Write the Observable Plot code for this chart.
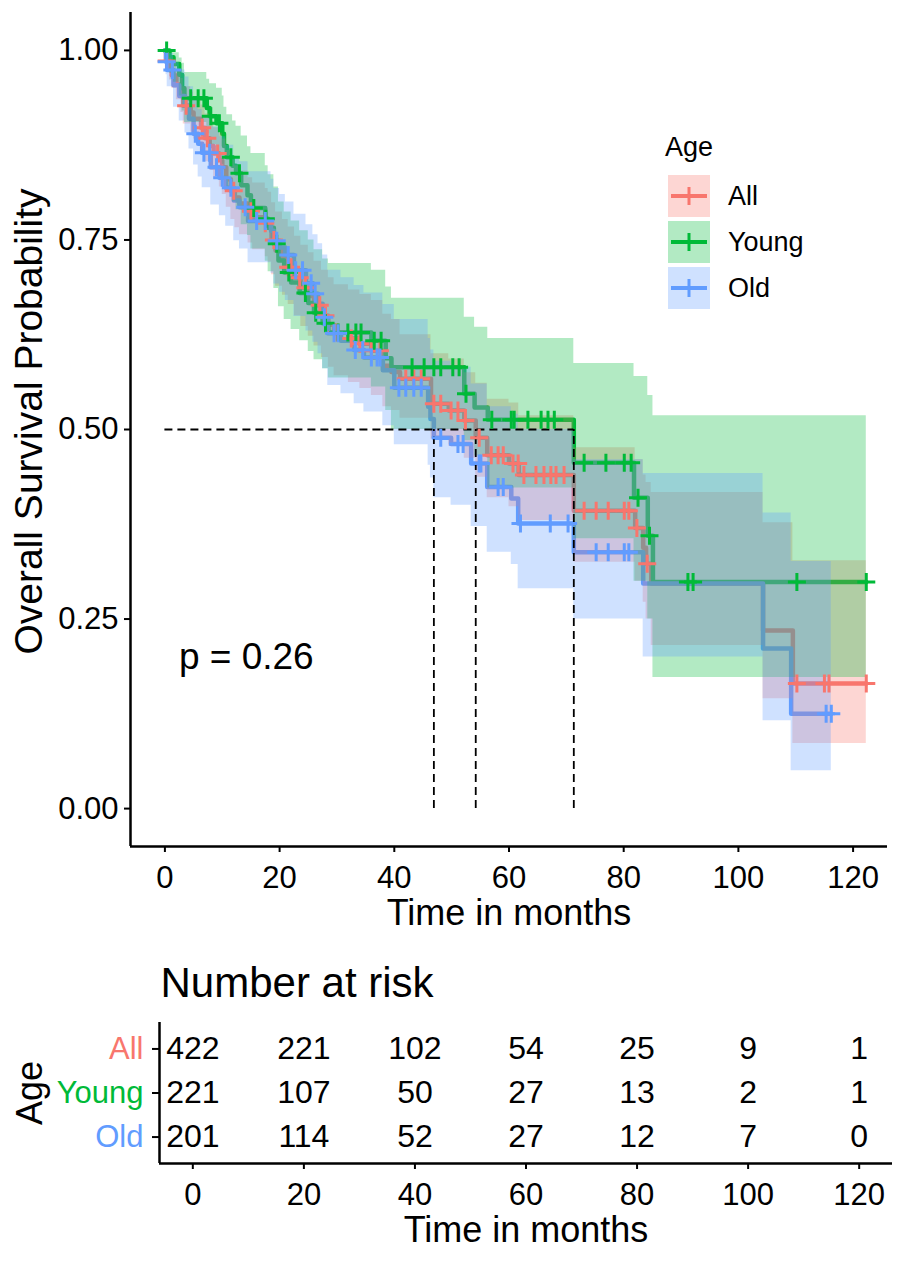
<!DOCTYPE html>
<html><head><meta charset="utf-8">
<script src="https://cdn.jsdelivr.net/npm/d3@7"></script>
<script src="https://cdn.jsdelivr.net/npm/@observablehq/plot@0.6"></script>
<style>
body{margin:0;background:#fff;font-family:"Liberation Sans",Arial,sans-serif;}
#wrap{position:relative;width:900px;}
#wrap svg{display:block;}
</style></head><body><div id="wrap"></div>
<script>
// ---------- data ----------
const groups = ["All", "Young", "Old"];
const colors = ["#F8766D", "#00BA38", "#619CFF"];
const legendTitle = "Age";
const xLabel = "Time in months";
const yLabel = "Overall Survival Probability";
const pText = "p = 0.26";
const xTicks = [0, 20, 40, 60, 80, 100, 120];
const yTicks = [0, 0.25, 0.5, 0.75, 1];
const xDomain = [-6, 126];
const yDomain = [-0.05, 1.05];

// All
const allTime  = [0,0.2,0.8,1.2,2,2.8,3.2,4.5,5,6.3, 7,7.8,8.5,9.5,10,10.7,11.5,12.2,13,14.5, 15.3,17.5,18,18.6,19.3,20.5,21.5,22.6,23.7,25, 26,27.3,28.5,29.5,32,34,36,38,39.5,41, 46.4,49.5,52.2,54.2,56.2,60,61.7,71.3,82.0,83.4, 83.9,84.8,104.3,109.5];
const allSurv  = [1,.986,.976,.967,.955,.94,.927,.918,.91,.898, .884,.874,.864,.855,.846,.83,.815,.806,.798,.788, .78,.772,.766,.75,.736,.725,.714,.70,.687,.676, .664,.65,.638,.628,.62,.613,.604,.584,.576,.567, .534,.525,.512,.489,.466,.455,.44,.393,.37,.344, .323,.297,.235,.165];
const allLower = [1,.975,.961,.95,.935,.918,.903,.892,.883,.869, .853,.842,.83,.82,.81,.793,.777,.766,.757,.746, .737,.728,.721,.704,.689,.677,.665,.65,.636,.623, .61,.595,.582,.571,.562,.554,.545,.53,.525,.515, .487,.478,.462,.437,.41,.398,.38,.325,.30,.272, .25,.215,.145,.086];
const allUpper = [1,.997,.99,.985,.975,.963,.952,.945,.938,.928, .916,.907,.898,.891,.883,.868,.855,.848,.841,.832, .825,.818,.813,.799,.787,.777,.767,.755,.743,.733, .722,.71,.70,.691,.684,.678,.67,.652,.645,.625, .60,.593,.575,.561,.54,.535,.518,.476,.46,.44, .43,.417,.377,.327];
const allCensor = [0.3,3.7,6.5,7.4,9.2,12,15,17.5,19,21.5,22,23.5,24.5,27,28,30,32.5,34,36,37.5,42,43.4,44.7,46.9,48.1,49.9,51.1,52.4,54.8,56.9,58.1,59,60.7,61.6,62.6,64.7,66.1,67.3,68.2,69.6,73.1,75.2,77.3,80.1,80.9,82.3,84.1,110.2,115,115.8,122.3];
const allEnd = 122.3;

// Young
const youngTime  = [0,0.8,1.5,2.5,3.0,3.4,7.3,7.8,9.0,10.0, 10.3,10.8,11.8,12.4,13.3,14.4,15.0,17.5,18.0,19.0, 19.8,20.8,22.0,23.5,25.0,26.0,27.5,28.5,36.0,38.5, 39.5,52.2,54.0,56.3,71.3,81.8,84.2,85.1];
const youngSurv  = [1,.991,.982,.968,.95,.937,.924,.913,.904,.89, .874,.859,.848,.838,.822,.809,.792,.778,.766,.745, .723,.707,.694,.68,.667,.654,.64,.628,.617,.594, .582,.547,.529,.513,.456,.41,.36,.299];
const youngLower = [1,.97,.958,.94,.92,.905,.89,.876,.865,.85, .83,.815,.80,.79,.77,.756,.738,.722,.708,.686, .662,.645,.632,.617,.603,.592,.58,.568,.556,.525, .50,.485,.465,.423,.356,.30,.25,.173];
const youngUpper = [1,1,.997,.99,.983,.971,.962,.956,.95,.94, .925,.915,.907,.90,.887,.873,.864,.848,.836,.82, .80,.787,.775,.762,.75,.737,.725,.719,.71,.688, .673,.648,.635,.62,.587,.57,.545,.518];
const youngCensor = [0.3,4.5,5.8,6.8,8.0,9.5,11.5,13.0,15.5,17.6,19.5,21.6,24.5,26.3,28.0,30.2,31.9,33.3,34.2,36.5,37.7,43.1,45.2,46.9,48.1,50.2,51.3,52.5,57.0,60.4,60.9,63.3,65.6,66.8,67.9,73.1,76.9,80.1,81.3,82.5,84.5,91.2,92.1,110.2,122.3];
const youngEnd = 122.3;

// Old
const oldTime  = [0,0.2,0.4,1.5,2.5,3.5,4.2,5,5.8,6.5, 8,9.5,10.6,12,13,14.5,18.5,19,20,21, 22.5,24.6,25.8,26.7,27.5,28.4,30.7,33,34.7,38, 40,45.9,46.3,46.9,49.9,53.4,56.2,60.4,61.6,71.3, 83.4,104.3,109.2];
const oldSurv  = [1,.985,.974,.954,.94,.927,.91,.89,.877,.865, .846,.832,.819,.802,.793,.775,.762,.749,.74,.73, .71,.693,.679,.666,.648,.627,.617,.605,.595,.578, .555,.53,.514,.489,.481,.455,.424,.409,.376,.338, .297,.211,.125];
const oldLower = [1,.968,.952,.925,.907,.891,.87,.849,.833,.819, .796,.782,.768,.749,.738,.72,.706,.692,.681,.67, .649,.63,.615,.60,.58,.558,.547,.534,.523,.505, .48,.453,.436,.41,.40,.372,.338,.322,.29,.25, .20,.116,.05];
const oldUpper = [1,1,.996,.984,.974,.965,.952,.934,.922,.914, .899,.886,.875,.86,.853,.84,.83,.818,.81,.80, .784,.77,.757,.745,.73,.71,.70,.69,.68,.665, .645,.62,.605,.59,.582,.56,.53,.52,.50,.46, .442,.39,.326];
const oldCensor = [0.3,1.3,5.3,6.8,7.8,9.0,10.0,11.5,14.0,16.0,17.5,19.5,21.5,22.8,24.0,25.5,26.2,27.8,29.5,30.2,33.2,34.5,36.0,37.0,37.5,40.8,42.0,43.4,44.7,48.1,51.1,52.0,54.8,55.1,58.1,59.0,62.0,67.2,70.3,75.2,77.3,80.1,80.9,115.3,116.2];
const oldEnd = 116.2;

// Number at risk
const riskTitle = "Number at risk";
const riskTimes = [0, 20, 40, 60, 80, 100, 120];
const riskAll   = [422, 221, 102, 54, 25, 9, 1];
const riskYoung = [221, 107, 50, 27, 13, 2, 1];
const riskOld   = [201, 114, 52, 27, 12, 7, 0];

// ---------- build tables ----------
const series = [
  {g: "All", time: allTime, surv: allSurv, lo: allLower, hi: allUpper, cens: allCensor, end: allEnd},
  {g: "Young", time: youngTime, surv: youngSurv, lo: youngLower, hi: youngUpper, cens: youngCensor, end: youngEnd},
  {g: "Old", time: oldTime, surv: oldSurv, lo: oldLower, hi: oldUpper, cens: oldCensor, end: oldEnd}
];
function survAt(s, t) { let v = s.surv[0]; for (let i = 0; i < s.time.length; i++) if (s.time[i] <= t) v = s.surv[i]; return v; }

const curveRows = [], bandRows = [], censRows = [], medians = [];
for (const s of series) {
  const n = s.time.length;
  const cr = s.time.map((t, i) => ({g: s.g, t, s: s.surv[i]}));
  cr.push({g: s.g, t: s.end, s: s.surv[n - 1]});
  const br = s.time.map((t, i) => ({g: s.g, t, lo: s.lo[i], hi: s.hi[i]}));
  br.push({g: s.g, t: s.end, lo: s.lo[n - 1], hi: s.hi[n - 1]});
  curveRows.push(cr); bandRows.push(br);
  for (const t of s.cens) censRows.push({g: s.g, t, s: survAt(s, t)});
  const mi = s.surv.findIndex(v => v <= 0.5);
  if (mi >= 0) medians.push(s.time[mi]);
}
const maxMedian = d3.max(medians);
const maxTime = d3.max(series, s => s.end);

const plusSymbol = {
  draw(ctx, size) {
    const r = Math.sqrt(size / Math.PI);
    ctx.moveTo(-r, 0); ctx.lineTo(r, 0);
    ctx.moveTo(0, -r); ctx.lineTo(0, r);
  }
};

const font = "Liberation Sans, Arial, sans-serif";
const wrap = document.getElementById("wrap");

// ---------- main plot ----------
const marks = [];
marks.push(Plot.ruleX([xDomain[0]], {stroke: "black", strokeWidth: 2.5}));
marks.push(Plot.ruleY([yDomain[0]], {stroke: "black", strokeWidth: 2.5}));
curveRows.forEach((rows, i) => marks.push(Plot.line(rows, {x: "t", y: "s", curve: "step-after", stroke: colors[i], strokeWidth: 4.5})));
bandRows.forEach((rows, i) => marks.push(Plot.areaY(rows, {x: "t", y1: "lo", y2: "hi", curve: "step-after", fill: colors[i], fillOpacity: 0.3})));
marks.push(Plot.ruleY([0.5], {x1: 0, x2: maxMedian, stroke: "black", strokeWidth: 1.8, strokeDasharray: "8,5"}));
marks.push(Plot.ruleX(medians, {x: d => d, y1: 0, y2: 0.5, stroke: "black", strokeWidth: 1.8, strokeDasharray: "8,5"}));
groups.forEach((g, i) => marks.push(Plot.dot(censRows.filter(d => d.g === g), {x: "t", y: "s", symbol: plusSymbol, r: 9, fill: "none", stroke: colors[i], strokeWidth: 3})));
marks.push(Plot.text([pText], {x: maxTime / 50, y: 0.2, text: d => d, textAnchor: "start", fontSize: 37}));
marks.push(Plot.axisX({ticks: xTicks, tickSize: 6, tickPadding: 13, fontSize: 31, strokeWidth: 2, label: null}));
marks.push(Plot.axisY({ticks: yTicks, tickSize: 6, tickPadding: 6, fontSize: 31, strokeWidth: 2, tickFormat: d3.format(".2f"), label: null}));
marks.push(Plot.text([xLabel], {frameAnchor: "bottom", dy: 67, lineAnchor: "middle", text: d => d, fontSize: 36}));
marks.push(Plot.text([yLabel], {frameAnchor: "left", dx: -101, dy: -8, rotate: -90, textAnchor: "middle", lineAnchor: "middle", text: d => d, fontSize: 39}));

const mainSvg = Plot.plot({
  width: 900, height: 940,
  marginLeft: 130, marginRight: 13, marginTop: 12, marginBottom: 94,
  x: {domain: xDomain},
  y: {domain: yDomain},
  style: {fontFamily: font, color: "black", background: "white", overflow: "visible"},
  marks
});
wrap.append(mainSvg);

// legend overlay
const leg = d3.create("svg").attr("width", 900).attr("height", 940)
  .style("position", "absolute").style("left", "0px").style("top", "0px")
  .style("font-family", font).style("pointer-events", "none");
leg.append("text").attr("x", 665).attr("y", 156).attr("font-size", 27).attr("fill", "black").text(legendTitle);
groups.forEach((g, i) => {
  const y0 = 175 + i * 46;
  leg.append("rect").attr("x", 668).attr("y", y0).attr("width", 42).attr("height", 42).attr("fill", colors[i]).attr("fill-opacity", 0.3);
  leg.append("line").attr("x1", 671).attr("x2", 707).attr("y1", y0 + 21).attr("y2", y0 + 21).attr("stroke", colors[i]).attr("stroke-width", 4);
  leg.append("line").attr("x1", 689).attr("x2", 689).attr("y1", y0 + 12).attr("y2", y0 + 30).attr("stroke", colors[i]).attr("stroke-width", 3);
  leg.append("text").attr("x", 728).attr("y", y0 + 21).attr("dy", "0.35em").attr("font-size", 27).attr("fill", "black").text(g);
});
wrap.append(leg.node());

// ---------- risk table ----------
const rowPad = 0.6;
const riskRows = [];
[riskAll, riskYoung, riskOld].forEach((arr, gi) => arr.forEach((n, j) => riskRows.push({g: groups[gi], row: gi + 1, t: riskTimes[j], n})));
const rMarks = [];
rMarks.push(Plot.ruleX([xDomain[0]], {stroke: "black", strokeWidth: 2.5}));
rMarks.push(Plot.ruleY([groups.length + rowPad], {stroke: "black", strokeWidth: 2.5}));
rMarks.push(Plot.text(riskRows, {x: "t", y: "row", text: d => String(d.n), fontSize: 32}));
groups.forEach((g, i) => rMarks.push(Plot.text([g], {x: xDomain[0], y: i + 1, dx: -16, text: d => d, textAnchor: "end", fill: colors[i], fontSize: 31})));
rMarks.push(Plot.axisY({ticks: groups.map((g, i) => i + 1), tickSize: 7, strokeWidth: 2, tickFormat: () => "", label: null}));
rMarks.push(Plot.axisX({ticks: xTicks, tickSize: 6, tickPadding: 13, fontSize: 31, strokeWidth: 2, label: null}));
rMarks.push(Plot.text([xLabel], {frameAnchor: "bottom", dy: 67, lineAnchor: "middle", text: d => d, fontSize: 36}));
rMarks.push(Plot.text([riskTitle], {frameAnchor: "top-left", dx: 1, dy: -39, lineAnchor: "middle", textAnchor: "start", text: d => d, fontSize: 42}));
rMarks.push(Plot.text([legendTitle], {frameAnchor: "left", dx: -129, rotate: -90, textAnchor: "middle", lineAnchor: "middle", text: d => d, fontSize: 36}));

const riskSvg = Plot.plot({
  width: 900, height: 323,
  marginLeft: 159, marginRight: 8, marginTop: 82, marginBottom: 100,
  x: {domain: xDomain},
  y: {domain: [groups.length + rowPad, 1 - rowPad]},
  style: {fontFamily: font, color: "black", background: "white", overflow: "visible"},
  marks: rMarks
});
wrap.append(riskSvg);
</script></body></html>
